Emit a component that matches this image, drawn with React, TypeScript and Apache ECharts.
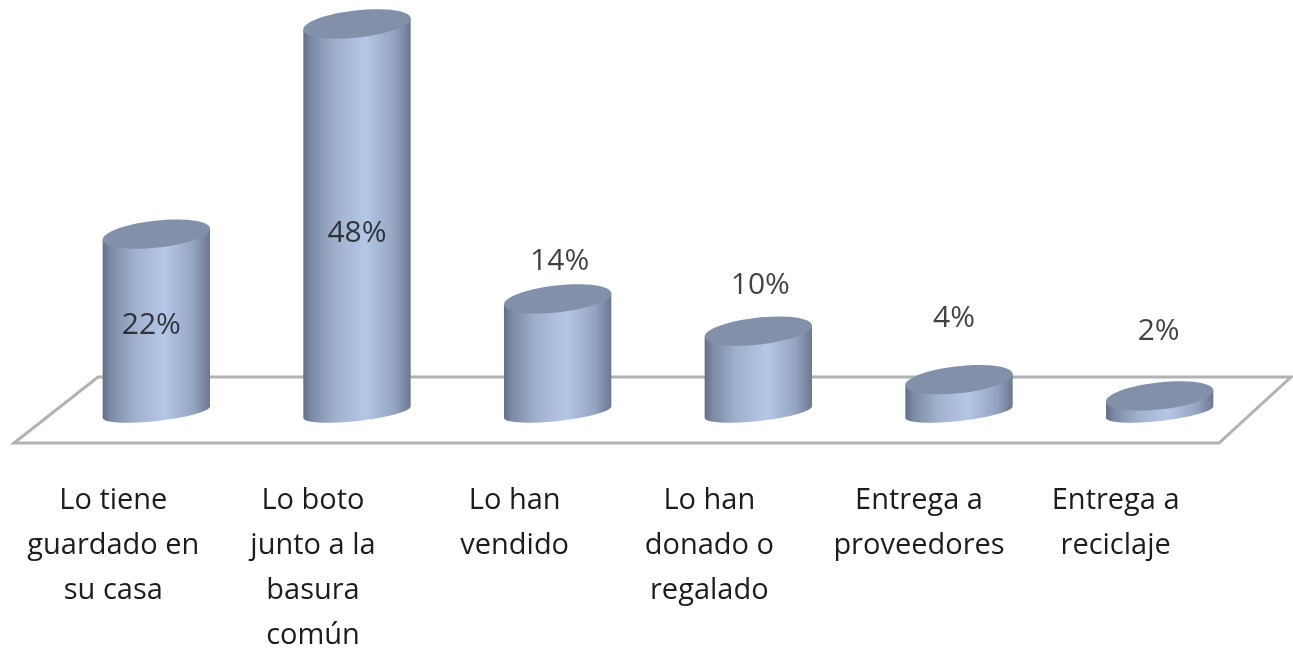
import React, { useEffect, useRef } from "react";
import * as echarts from "echarts";

const categories = [
  "Lo tiene\nguardado en\nsu casa",
  "Lo boto\njunto a la\nbasura\ncomún",
  "Lo han\nvendido",
  "Lo han\ndonado o\nregalado",
  "Entrega a\nproveedores",
  "Entrega a\nreciclaje",
];
const values = [22, 48, 14, 10, 4, 2];
const valueLabels = ["22%", "48%", "14%", "10%", "4%", "2%"];
const labelOffsetsY = [88, 206, -40, -49, -64, -67];
const labelOffsetsX = [-5, 0, 2, 2, -5, -1];
const axisLabelPadding = [86, 88, 86, 98, 80, 88];

const FONT = "'Open Sans', 'DejaVu Sans', sans-serif";
const HALF_W = 54;
const CAP_RY = 13.5;
const BASE_RY = 9;
const TILT = -0.11;
const K = 0.5523;

function tilted(cx: number, cy: number, u: number, v: number) {
  const cos = Math.cos(TILT), sin = Math.sin(TILT);
  return `${cx + u * cos - v * sin} ${cy + u * sin + v * cos}`;
}

function ellipsePath(cx: number, cy: number, rx: number, ry: number) {
  const p = (u: number, v: number) => tilted(cx, cy, u, v);
  return (
    `M${p(-rx, 0)}` +
    `C${p(-rx, -K * ry)} ${p(-K * rx, -ry)} ${p(0, -ry)}` +
    `C${p(K * rx, -ry)} ${p(rx, -K * ry)} ${p(rx, 0)}` +
    `C${p(rx, K * ry)} ${p(K * rx, ry)} ${p(0, ry)}` +
    `C${p(-K * rx, ry)} ${p(-rx, K * ry)} ${p(-rx, 0)}Z`
  );
}

function bodyPath(cx: number, top: number, base: number, rx: number, ry: number) {
  const p = (u: number, v: number) => tilted(cx, base, u, v);
  return (
    `M${tilted(cx, top, -rx, 0)}L${p(-rx, 0)}` +
    `C${p(-rx, K * ry)} ${p(-K * rx, ry)} ${p(0, ry)}` +
    `C${p(K * rx, ry)} ${p(rx, K * ry)} ${p(rx, 0)}` +
    `L${tilted(cx, top, rx, 0)}Z`
  );
}

export default function App() {
  const ref = useRef<HTMLDivElement>(null);
  useEffect(() => {
    const chart = echarts.init(ref.current!, undefined, { renderer: "svg" });
    chart.setOption({
      animation: false,
      grid: { left: 56, right: 33, top: 24, bottom: 237, outerBoundsMode: "none" },
      xAxis: {
        type: "category",
        data: categories.map((c, i) => ({
          value: c,
          textStyle: { padding: [0, axisLabelPadding[i], 0, 0] },
        })),
        axisLine: { show: false },
        axisTick: { show: false },
        axisLabel: {
          interval: 0,
          margin: 63,
          color: "#1c1c1c",
          fontFamily: FONT,
          fontSize: 29,
          lineHeight: 45,
          verticalAlign: "top",
        },
      },
      yAxis: { type: "value", min: 0, max: 48, show: false, splitLine: { show: false } },
      graphic: [
        {
          type: "polygon",
          silent: true,
          z: 0,
          shape: { points: [[98, 377], [1291, 377], [1219, 443], [14, 443]] },
          style: { fill: "#ffffff", stroke: "#b2b2b2", lineWidth: 3 },
        },
      ],
      series: [
        {
          type: "custom",
          z: 5,
          data: values.map((v, i) => [i, v]),
          encode: { x: 0, y: 1 },
          renderItem: (_p: any, api: any) => {
            const i = api.value(0);
            const [cx, top] = api.coord([i, api.value(1)]);
            const [, base] = api.coord([i, 0]);
            const side = new echarts.graphic.LinearGradient(0, 0, 1, 0, [
              { offset: 0, color: "#626f87" },
              { offset: 0.08, color: "#7d8ba5" },
              { offset: 0.3, color: "#a0b1cd" },
              { offset: 0.58, color: "#b4c7e6" },
              { offset: 0.85, color: "#94a4c0" },
              { offset: 0.93, color: "#7e8ca7" },
              { offset: 1, color: "#6b7891" },
            ]);
            return {
              type: "group",
              children: [
                {
                  type: "path",
                  shape: { pathData: bodyPath(cx, top, base, HALF_W, BASE_RY) },
                  style: { fill: side },
                },
                {
                  type: "path",
                  shape: { pathData: ellipsePath(cx, top, HALF_W, CAP_RY) },
                  style: { fill: "#8290a9" },
                },
              ],
            };
          },
        },
        {
          type: "scatter",
          z: 10,
          symbolSize: 0,
          data: values.map((v, i) => ({
            value: [i, v],
            label: {
              show: true,
              formatter: valueLabels[i],
              position: "inside",
              offset: [labelOffsetsX[i], labelOffsetsY[i]],
              color: "#111111",
              fontFamily: FONT,
              fontSize: 30,
            },
          })),
        },
      ],
    });
    return () => chart.dispose();
  }, []);
  return <div ref={ref} style={{ position: "fixed", left: 0, top: 0, width: 1293, height: 649 }} />;
}
